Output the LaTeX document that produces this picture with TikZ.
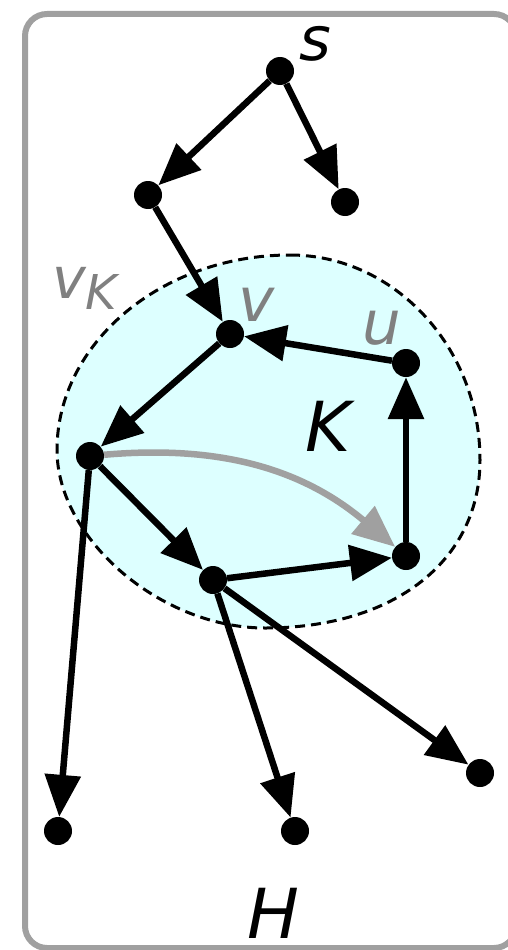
\documentclass[tikz,border=0pt]{standalone}
\usepackage{fontspec}
\setmainfont{DejaVu Sans}
\usetikzlibrary{arrows.meta}
\definecolor{kfill}{RGB}{221,255,255}
\definecolor{framegray}{RGB}{160,160,160}
\definecolor{labgray}{RGB}{128,128,128}
\begin{document}
\begin{tikzpicture}[x=1pt,y=-1pt,
  vertex/.style={circle,fill=black,inner sep=0pt,minimum size=28pt},
  edge/.style={line width=6.5pt,-{Triangle[length=42pt,width=35pt]}},
  grayedge/.style={line width=6.5pt,framegray,-{Triangle[length=42pt,width=35pt]}},
  lablow/.style={inner sep=0pt,font=\fontsize{61}{61}\selectfont\itshape},
  labcap/.style={inner sep=0pt,font=\fontsize{69}{69}\selectfont\itshape}]
\useasboundingbox (0,0) rectangle (508,950);
\clip (0,0) rectangle (508,950);
% frame
\draw[framegray,line width=6pt,rounded corners=22pt] (25,14) rectangle (516,948);
% component K
\draw[line width=3pt,dash pattern=on 10pt off 6pt,fill=kfill]
  (290,255) .. controls (394,255) and (480,347) .. (480,460)
  .. controls (480,561) and (394,628) .. (265,628)
  .. controls (161,628) and (57,539) .. (57,450)
  .. controls (57,343) and (162,255) .. cycle;
% vertices
\node[vertex] (s) at (280,71) {};
\node[vertex] (a) at (148,195) {};
\node[vertex] (b) at (345,202) {};
\node[vertex] (v) at (230,334) {};
\node[vertex] (u) at (406,363) {};
\node[vertex] (w) at (90,456) {};
\node[vertex] (x) at (213,580) {};
\node[vertex] (y) at (406,556) {};
\node[vertex] (l1) at (58,831) {};
\node[vertex] (l2) at (295,831) {};
\node[vertex] (l3) at (480,773) {};
% labels
\node[lablow] (ls) at (315,44) {s};
\node[lablow,labgray] (lv) at (257,305) {v};
\node[lablow,labgray] (lu) at (382,328) {u};
\node[labcap] (lK) at (328,426) {K};
\node[labcap] (lH) at (273,913) {H};
\node[inner sep=0pt,labgray,font=\fontsize{57}{57}\selectfont\itshape] (lvK) at (69,283) {v};
\node[inner sep=0pt,labgray,font=\fontsize{48}{48}\selectfont\itshape] (lvKsub) at (101,292) {K};
% edges
\draw[edge] (s) -- (a);
\draw[edge] (s) -- (b);
\draw[edge] (a) -- (v);
\draw[edge] (u) -- (v);
\draw[edge] (v) -- (w);
\draw[edge] (w) -- (x);
\draw[edge] (x) -- (y);
\draw[edge] (y) -- (u);
\draw[edge] (w) -- (l1);
\draw[edge] (x) -- (l2);
\draw[edge] (x) -- (l3);
\draw[grayedge] (w) to[out=5,in=140] (y);
\end{tikzpicture}
\end{document}
